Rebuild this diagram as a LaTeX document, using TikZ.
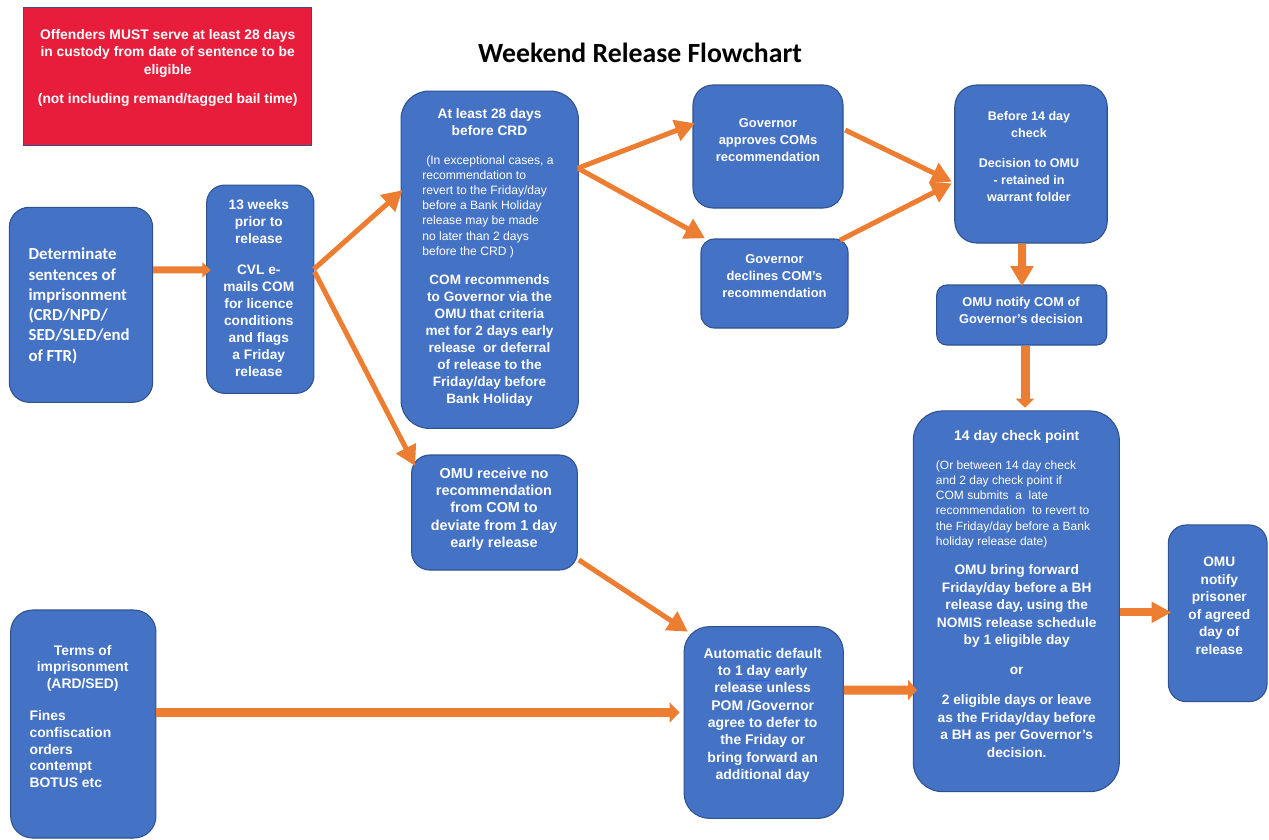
\documentclass[tikz,border=0pt]{standalone}
\usepackage{fontspec}
\setmainfont{Liberation Sans}
\newfontfamily\calib{Carlito}
\usetikzlibrary{arrows.meta,calc}
\definecolor{boxblue}{HTML}{4472C4}
\definecolor{boxedge}{HTML}{2F528F}
\definecolor{arr}{HTML}{ED7D31}
\definecolor{alert}{HTML}{E81D3B}
\definecolor{ulblue}{HTML}{2E5CE6}
\newcommand\fsz[2]{\fontsize{#1}{#2}\selectfont}
\newcommand\ulb[1]{{\color{ulblue}\underline{\textcolor{white}{#1}}}}
\begin{document}
\begin{tikzpicture}[x=0.75pt,y=-0.75pt,
  bbox/.style n args={3}{draw=boxedge, line width=0.8pt, fill=boxblue,
     rounded corners=#3, minimum width=#1*0.75pt, minimum height=#2*0.75pt,
     inner sep=0pt},
  txt/.style={text=white, inner sep=0pt, align=center},
  lefttxt/.style={text=white, inner sep=0pt, align=left, anchor=west},
  diag/.style={draw=arr, line width=3.75pt, -{Triangle[length=15pt,width=16pt]}},
  blockarr/.style n args={3}{draw=arr, line width=#1, -{Triangle[length=#2,width=#3]}}
]
\useasboundingbox (0,0) rectangle (1269,839);

% title
\node[font=\calib\bfseries\fsz{20.8pt}{24pt}, inner sep=0pt] (title) at (640,53) {Weekend Release Flowchart};

% red notice
\node[draw=boxedge, line width=0.6pt, fill=alert, minimum width=288.4*0.75pt,
      minimum height=137.7*0.75pt, inner sep=0pt] (notice) at (167.5,76.2) {};
\node[txt, font=\bfseries\fsz{10.4pt}{13.1pt}] (noticet) at (167.7,67.8)
  {Offenders MUST serve at least 28 days\\in custody from date of sentence to be\\eligible\\[8.6pt](not including remand/tagged bail time)};

% boxes
\node[bbox={143.4}{195}{15pt}] (A) at (81,304.8) {};
\node[bbox={107.3}{208.3}{13.5pt}] (B) at (260.3,289.2) {};
\node[bbox={177.3}{337.3}{21pt}] (C) at (489.7,259.7) {};
\node[bbox={150}{123}{15pt}] (D) at (768,146.5) {};
\node[bbox={147}{89}{10pt}] (E) at (774.5,283.5) {};
\node[bbox={152.5}{158}{16.5pt}] (F) at (1031,164) {};
\node[bbox={170}{60}{7.5pt}] (G) at (1021.7,315) {};
\node[bbox={165.7}{115}{13.5pt}] (H) at (494.5,512.5) {};
\node[bbox={145.3}{228}{16.5pt}] (I) at (83.3,724) {};
\node[bbox={159.3}{191.7}{19pt}] (J) at (763.7,722.5) {};
\node[bbox={206}{380.7}{22pt}] (K) at (1016.3,601.3) {};
\node[bbox={98.7}{176.7}{13.5pt}] (L) at (1217.7,613.3) {};

% texts
\node[lefttxt, font=\calib\bfseries\fsz{12.6pt}{15.2pt}] (At) at (28.3,305.8)
  {Determinate\\sentences of\\imprisonment\\(CRD/NPD/\\SED/SLED/end\\of FTR)};
\node[txt, font=\bfseries\fsz{10.3pt}{12.75pt}] (Bt) at (258.8,288.2)
  {13 weeks\\prior to\\release\\[10pt]CVL e-\\mails COM\\for licence\\conditions\\and flags\\a Friday\\release};
\node[txt, font=\bfseries\fsz{10.3pt}{12.75pt}] (Ct1) at (489.5,122.5)
  {At least 28 days\\before CRD};
\node[lefttxt, font=\fsz{9.1pt}{11.4pt}] (Ct2) at (422,206.5)
  {\hspace{3pt}(In exceptional cases, a\\recommendation to\\revert to the Friday/day\\before a Bank Holiday\\release may be made\\no later than 2 days\\before the CRD )};
\node[txt, font=\bfseries\fsz{10.2pt}{12.75pt}] (Ct3) at (489.5,340.5)
  {COM recommends\\to Governor via the\\OMU that criteria\\met for 2 days early\\release~ or deferral\\of release to the\\Friday/day before\\Bank Holiday};
\node[txt, font=\bfseries\fsz{9.7pt}{13pt}] (Dt) at (768,140)
  {Governor\\approves COMs\\recommendation};
\node[txt, font=\bfseries\fsz{9.7pt}{13pt}] (Et) at (774.5,276)
  {Governor\\declines COM’s\\recommendation};
\node[txt, font=\bfseries\fsz{9.4pt}{12.9pt}] (Ft) at (1029,156.7)
  {Before 14 day\\check\\[9.5pt]Decision to OMU\\- retained in\\warrant folder};
\node[txt, font=\bfseries\fsz{9.6pt}{13.2pt}] (Gt) at (1021,310.5)
  {OMU notify COM of\\Governor’s decision};
\node[txt, font=\bfseries\fsz{10.8pt}{13pt}] (Ht) at (494,509)
  {OMU receive no\\recommendation\\from COM to\\deviate from 1 day\\early release};
\node[txt, font=\bfseries\fsz{10.4pt}{12.5pt}] (It1) at (82.7,668.3)
  {Terms of\\imprisonment\\(ARD/SED)};
\node[lefttxt, font=\bfseries\fsz{10.4pt}{12.5pt}] (It2) at (29.3,749.2)
  {Fines\\confiscation\\orders\\contempt\\BOTUS etc};
\node[txt, font=\bfseries\fsz{10.5pt}{13pt}] (Jt) at (762.7,715.3)
  {Automatic default\\to \ulb{1 day} early\\release unless\\POM /Governor\\agree to defer to\\the Friday or\\bring forward an\\additional day};
\node[txt, font=\bfseries\fsz{10.5pt}{13pt}] (Kt1) at (1016.7,437.3)
  {14 day check point};
\node[lefttxt, font=\fsz{9pt}{11.4pt}] (Kt2) at (935.7,504.2)
  {(Or between 14 day check\\and 2 day check point if\\COM submits~ a~ late\\recommendation~ to revert to\\the Friday/day before a Bank\\holiday release date)};
\node[txt, font=\bfseries\fsz{10.3pt}{13.1pt}] (Kt3) at (1016.7,661)
  {OMU bring forward\\Friday/day before a BH\\release day, using the\\NOMIS release schedule\\by 1 eligible day\\[9pt]or\\[9.75pt]2 eligible days or leave\\as the Friday/day before\\a BH as per Governor’s\\decision.};
\node[txt, font=\bfseries\fsz{10.3pt}{13.1pt}] (Lt) at (1219.3,605.7)
  {OMU\\notify\\prisoner\\of agreed\\day of\\release};

% connectors
\draw[blockarr={5.25pt}{6.4pt}{11.25pt}] ($(A.east)+(0,-35)$) -- ($(B.west)+(4.7,-19.2)$);
\draw[diag] ($(B.east)+(-0.7,-20)$) -- ($(C.west)+(2,-69.5)$);
\draw[diag] ($(B.east)+(0,-17.5)$) -- ($(H.west)+(4,-46.5)$);
\draw[diag] ($(C.east)+(-1,-91.5)$) -- ($(D.west)+(2.6,-23.2)$);
\draw[diag] ($(C.east)+(-1,-91.5)$) -- ($(E.west)+(4.6,-45.2)$);
\draw[diag] ($(D.east)+(1.6,-16.5)$) -- ($(F.west)+(-2.5,17.7)$);
\draw[diag] ($(E.north east)+(-8.5,1.7)$) -- ($(F.west)+(-2.5,19.3)$);
\draw[blockarr={6pt}{15pt}{16.5pt}] ($(F.south)+(-9,0)$) -- ($(G.north)+(0.3,1.7)$);
\draw[blockarr={6.75pt}{6.75pt}{13.5pt}] ($(G.south)+(3.3,0)$) -- ($(K.north)+(8.7,-2.7)$);
\draw[diag] ($(H.east)+(1,47.5)$) -- ($(J.west)+(4.3,-90.8)$);
\draw[blockarr={6.75pt}{7.5pt}{15pt}] ($(I.east)+(0,-11.5)$) -- ($(J.west)+(-4,-10)$);
\draw[blockarr={6.75pt}{6.75pt}{15pt}] ($(J.east)+(0,-32.5)$) -- ($(K.west)+(4.3,88.7)$);
\draw[blockarr={6pt}{15pt}{15pt}] ($(K.east)+(0,11)$) -- ($(L.west)+(3.7,-1)$);
\end{tikzpicture}
\end{document}
